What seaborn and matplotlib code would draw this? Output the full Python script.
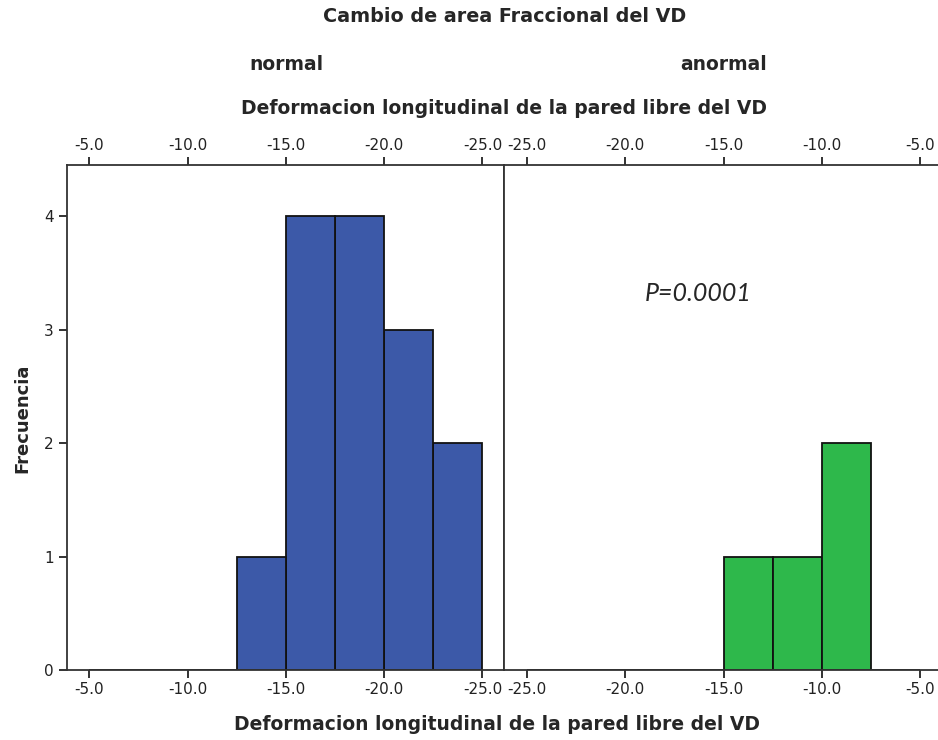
'''
Histograma de deformacion longitudinal de la pared libre del VD
por grupo de cambio de area fraccional (normal / anormal)
'''
import numpy as np
import pandas as pd
import matplotlib
matplotlib.use('Agg')
import matplotlib.pyplot as plt
import seaborn as sns

# Bordes de los intervalos (ancho 2.5)
bin_edges = [-25.0, -22.5, -20.0, -17.5, -15.0, -12.5, -10.0, -7.5, -5.0]

# Centro del intervalo y frecuencia por grupo
normal_centers = [-13.75, -16.25, -18.75, -21.25, -23.75]
normal_counts = [1, 4, 4, 3, 2]
anormal_centers = [-13.75, -11.25, -8.75]
anormal_counts = [1, 1, 2]

x_ticks = [-5.0, -10.0, -15.0, -20.0, -25.0]
y_ticks = [0, 1, 2, 3, 4]

blue = '#3c59a8'
green = '#2eb84b'

sns.set_style('ticks')
plt.rcParams['font.family'] = ['DejaVu Sans']

normal_df = pd.DataFrame({'valor': normal_centers, 'n': normal_counts})
anormal_df = pd.DataFrame({'valor': anormal_centers, 'n': anormal_counts})

fig = plt.figure(figsize=(9.38, 7.40), dpi=100)
W, H = 938.0, 740.0
ax_left = fig.add_axes([66.7 / W, 1 - 670 / H, 437.3 / W, 505 / H])
ax_right = fig.add_axes([504 / W, 1 - 670 / H, 437.3 / W, 505 / H])

sns.histplot(data=normal_df, x='valor', weights='n', bins=bin_edges,
             color=blue, alpha=1, edgecolor='#111111', linewidth=1.3,
             ax=ax_left)
sns.histplot(data=anormal_df, x='valor', weights='n', bins=bin_edges,
             color=green, alpha=1, edgecolor='#111111', linewidth=1.3,
             ax=ax_right)

# Eje izquierdo invertido, derecho normal
ax_left.set_xlim(-3.85, -26.1)
ax_right.set_xlim(-26.17, -3.92)

for ax in (ax_left, ax_right):
    ax.set_ylim(0, 4.45)
    ax.set_xticks(x_ticks)
    ax.set_xticklabels([f'{t:.1f}' for t in x_ticks])
    ax.tick_params(axis='x', top=True, labeltop=True, bottom=True,
                   labelbottom=True, direction='out', length=6, width=1.3,
                   labelsize=11, colors='#222222', pad=3)
    ax.set_xlabel('')
    ax.set_ylabel('')
    for s in ax.spines.values():
        s.set_visible(True)
        s.set_linewidth(1.3)
        s.set_color('#333333')

ax_left.set_yticks(y_ticks)
ax_left.tick_params(axis='y', direction='out', length=6, width=1.3,
                    labelsize=11, colors='#222222')
ax_right.set_yticks([])
ax_right.tick_params(axis='y', left=False, labelleft=False)

# Titulos y etiquetas
fig.text(505 / W, 1 - 17 / H, 'Cambio de area Fraccional del VD',
         ha='center', va='center', fontsize=13.8, fontweight='bold')
fig.text(286 / W, 1 - 64 / H, 'normal', ha='center', va='center',
         fontsize=13.5, fontweight='bold')
fig.text(724 / W, 1 - 64 / H, 'anormal', ha='center', va='center',
         fontsize=13.5, fontweight='bold')
fig.text(504 / W, 1 - 108 / H,
         'Deformacion longitudinal de la pared libre del VD',
         ha='center', va='center', fontsize=13.5, fontweight='bold')
fig.text(497 / W, 1 - 724 / H,
         'Deformacion longitudinal de la pared libre del VD',
         ha='center', va='center', fontsize=13.5, fontweight='bold')
fig.text(22 / W, 1 - 418 / H, 'Frecuencia', rotation=90,
         ha='center', va='center', fontsize=13, fontweight='bold')

ax_right.text(698 / W, 1 - 293 / H, 'P=0.0001', transform=fig.transFigure,
              ha='center', va='center', fontsize=18, fontstyle='italic',
              family=['Lato', 'DejaVu Sans'])

fig.savefig('out.png', dpi=100)
